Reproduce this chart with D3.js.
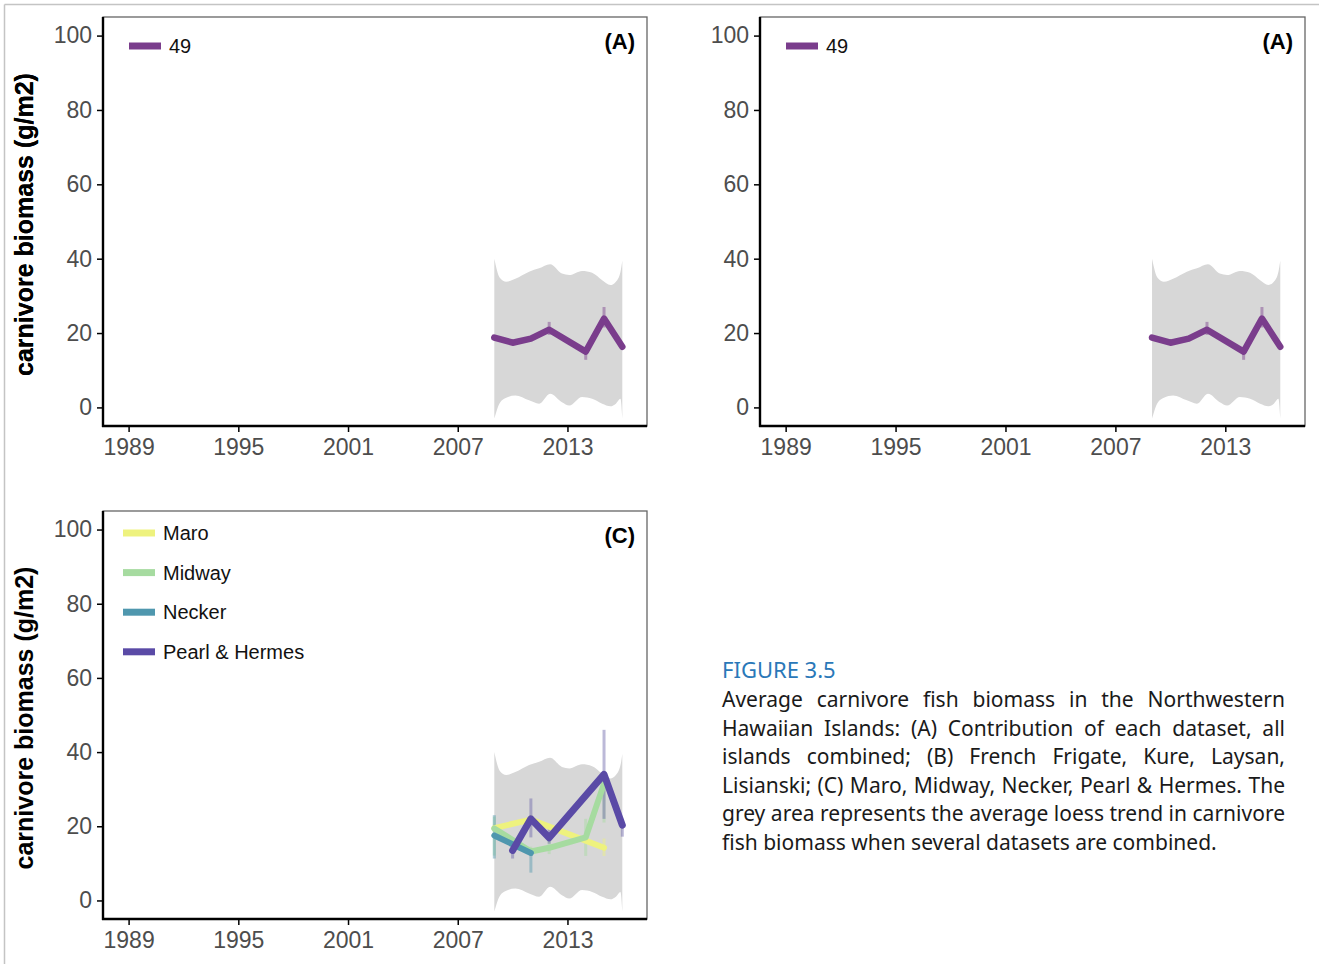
<!DOCTYPE html>
<html>
<head>
<meta charset="utf-8">
<script src="https://cdn.jsdelivr.net/npm/d3@7"></script>
<style>
  body { margin: 0; background: #fff; }
  svg { display: block; }
</style>
</head>
<body>
<svg id="fig" width="1319" height="964"></svg>
<script>
// ---- data ----
var yearTicks = [1989, 1995, 2001, 2007, 2013];
var biomassTicks = [0, 20, 40, 60, 80, 100];

// panels A/B: all datasets combined ("49")
var allYears = [2009, 2010, 2011, 2012, 2014, 2015, 2016];
var allMean  = [18.8, 17.4, 18.5, 20.9, 15.0, 23.9, 16.3];
var allLow   = [18.2, 16.8, 17.9, 19.5, 12.8, 21.5, 15.7];
var allHigh  = [19.4, 18.0, 19.1, 23.0, 15.6, 27.0, 16.9];

// loess band (same in every panel)
var bandYears = [2009.0, 2009.3, 2009.65, 2010.15, 2010.9, 2011.45, 2012.05, 2012.7, 2013.1, 2013.8, 2014.35, 2014.9, 2015.35, 2015.65, 2015.9, 2016.0];
var bandUpper = [40.0, 34.9, 33.8, 34.6, 36.5, 37.4, 38.5, 36.0, 35.6, 36.7, 36.2, 34.2, 32.9, 33.8, 36.5, 39.5];
var bandLower = [-3.0, 1.2, 2.6, 3.2, 1.9, 1.0, 3.7, 1.4, 0.5, 2.8, 2.3, 1.0, 0.3, 1.0, 2.3, -3.0];

// panel C islands
var islandNames = ["Maro", "Midway", "Necker", "Pearl & Hermes"];
var islandColors = ["#eef27e", "#a6dba0", "#4f97ae", "#5a4aa6"];

var maroYears = [2009, 2011, 2015];
var maroMean  = [19.5, 21.8, 14.2];
var maroLow   = [18.5, 20.5, 12.0];
var maroHigh  = [20.5, 23.0, 16.7];

var midwayYears = [2009, 2011, 2012, 2014, 2015];
var midwayMean  = [19.4, 13.2, 14.2, 17.0, 31.5];
var midwayLow   = [12.1, 12.0, 12.5, 12.0, 21.0];
var midwayHigh  = [22.6, 14.5, 16.0, 22.0, 33.0];

var neckerYears = [2009, 2011];
var neckerMean  = [17.5, 12.8];
var neckerLow   = [11.3, 7.5];
var neckerHigh  = [23.0, 14.0];

var pearlYears = [2010, 2011, 2012, 2015, 2016];
var pearlMean  = [13.5, 22.0, 16.9, 34.0, 20.3];
var pearlLow   = [11.3, 17.0, 15.3, 22.0, 17.2];
var pearlHigh  = [14.5, 27.5, 19.4, 46.0, 22.0];

var captionTitle = "FIGURE 3.5";
var captionLines = [
  "Average carnivore fish biomass in the Northwestern",
  "Hawaiian Islands: (A) Contribution of each dataset, all",
  "islands combined; (B) French Frigate, Kure, Laysan,",
  "Lisianski; (C) Maro, Midway, Necker, Pearl & Hermes. The",
  "grey area represents the average loess trend in carnivore",
  "fish biomass when several datasets are combined."
];

// ---- helpers ----
function toPoints(years, mean, low, high) {
  return years.map(function(y, i) { return {year: y, v: mean[i], lo: low[i], hi: high[i]}; });
}

var svg = d3.select("#fig");

// faint outer frame of the page
svg.append("line").attr("x1", 4.5).attr("x2", 1319).attr("y1", 4.5).attr("y2", 4.5)
  .attr("stroke", "#c4c4c4").attr("stroke-width", 1.5);
svg.append("line").attr("x1", 4.5).attr("x2", 4.5).attr("y1", 4.5).attr("y2", 964)
  .attr("stroke", "#c4c4c4").attr("stroke-width", 1.5);

var bandData = bandYears.map(function(y, i) { return {year: y, lo: bandLower[i], hi: bandUpper[i]}; });

function drawPanel(id, left, top, w, h, tag, series, legend) {
  var x = d3.scaleLinear().domain([1987.6, 2017.35]).range([left, left + w]);
  var y = d3.scaleLinear().domain([-5, 105]).range([top + h, top]);
  var g = svg.append("g").attr("class", "panel-" + id);

  g.append("clipPath").attr("id", "clip-" + id)
    .append("rect").attr("x", left).attr("y", top).attr("width", w).attr("height", h);

  var plot = g.append("g").attr("clip-path", "url(#clip-" + id + ")");

  // loess band
  var area = d3.area()
    .x(function(d) { return x(d.year); })
    .y0(function(d) { return y(d.lo); })
    .y1(function(d) { return y(d.hi); })
    .curve(d3.curveMonotoneX);
  plot.append("path").datum(bandData).attr("d", area).attr("fill", "#d7d7d7");

  var line = d3.line()
    .x(function(d) { return x(d.year); })
    .y(function(d) { return y(d.v); });

  series.forEach(function(s) {
    plot.selectAll(null).data(s.points).enter().append("line")
      .attr("x1", function(d) { return x(d.year); })
      .attr("x2", function(d) { return x(d.year); })
      .attr("y1", function(d) { return y(d.lo); })
      .attr("y2", function(d) { return y(d.hi); })
      .attr("stroke", s.errColor || s.color)
      .attr("stroke-opacity", 0.45)
      .attr("stroke-width", 3);
  });
  series.forEach(function(s) {
    plot.append("path").datum(s.points).attr("d", line)
      .attr("fill", "none")
      .attr("stroke", s.color)
      .attr("stroke-width", s.width)
      .attr("stroke-linejoin", "round")
      .attr("stroke-linecap", "round");
  });

  // frame
  g.append("rect").attr("x", left).attr("y", top).attr("width", w).attr("height", h)
    .attr("fill", "none").attr("stroke", "#666").attr("stroke-width", 1.3);

  // axes
  var yAxis = d3.axisLeft(y).tickValues(biomassTicks).tickSize(6).tickPadding(5);
  var xAxis = d3.axisBottom(x).tickValues(yearTicks).tickFormat(d3.format("d")).tickSize(6).tickPadding(7);

  var ya = g.append("g").attr("transform", "translate(" + left + ",0)").call(yAxis);
  var xa = g.append("g").attr("transform", "translate(0," + (top + h) + ")").call(xAxis);
  [ya, xa].forEach(function(a) {
    a.select(".domain").attr("stroke", "#000").attr("stroke-width", 2.4);
    a.selectAll(".tick line").attr("stroke", "#000").attr("stroke-width", 1.5);
    a.selectAll(".tick text").attr("fill", "#4d4d4d")
      .style("font-family", "'Liberation Sans', Arial, sans-serif").style("font-size", "23px");
  });
  ya.select(".domain").attr("d", "M0," + (top + h + 1) + "V" + top);
  xa.select(".domain").attr("d", "M" + (left - 1) + ",0H" + (left + w));

  // y title
  g.append("text")
    .attr("transform", "translate(33," + (top + h / 2 + 3) + ") rotate(-90)")
    .attr("text-anchor", "middle")
    .style("font-family", "'Liberation Sans', Arial, sans-serif")
    .style("font-size", "25px").style("font-weight", "bold")
    .attr("fill", "#000")
    .text("carnivore biomass (g/m2)");

  // panel tag
  g.append("text").attr("x", left + w - 12).attr("y", top + 32)
    .attr("text-anchor", "end")
    .style("font-family", "'Liberation Sans', Arial, sans-serif")
    .style("font-size", "22px").style("font-weight", "bold")
    .text(tag);

  // legend
  var lg = g.selectAll(".legend").data(legend).enter().append("g")
    .attr("transform", function(d, i) { return "translate(0," + (i * legend.step) + ")"; });
  lg.append("line")
    .attr("x1", legend.x).attr("x2", legend.x + 32)
    .attr("y1", legend.y).attr("y2", legend.y)
    .attr("stroke", function(d) { return d.color; }).attr("stroke-width", 7);
  lg.append("text")
    .attr("x", legend.x + 40).attr("y", legend.y + 7)
    .style("font-family", "'Liberation Sans', Arial, sans-serif")
    .style("font-size", "20px").attr("fill", "#111")
    .text(function(d) { return d.name; });
}

var allSeries = [{color: "#7a3d8c", width: 6.5, points: toPoints(allYears, allMean, allLow, allHigh)}];
var legendAll = [{name: "49", color: "#7a3d8c"}];
legendAll.x = 129; legendAll.y = 46; legendAll.step = 0;

drawPanel("a", 103, 17, 544, 409, "(A)", allSeries, legendAll);
drawPanel("b", 760, 17, 545, 409, "(A)", allSeries, Object.assign(legendAll.slice(), {x: 786, y: 46, step: 0}));

var islandSeries = [
  {color: islandColors[0], width: 6, points: toPoints(maroYears, maroMean, maroLow, maroHigh)},
  {color: islandColors[1], width: 6, points: toPoints(midwayYears, midwayMean, midwayLow, midwayHigh)},
  {color: islandColors[2], width: 6, points: toPoints(neckerYears, neckerMean, neckerLow, neckerHigh)},
  {color: islandColors[3], width: 7, errColor: "#6a63a8", points: toPoints(pearlYears, pearlMean, pearlLow, pearlHigh)}
];
var legendC = islandNames.map(function(n, i) { return {name: n, color: islandColors[i]}; });
legendC.x = 123; legendC.y = 533; legendC.step = 39.6;

drawPanel("c", 103, 511, 544, 408, "(C)", islandSeries, legendC);

// ---- caption ----
var cap = svg.append("g").style("font-family", "'Noto Sans', 'Open Sans', sans-serif");
cap.append("text").attr("x", 722).attr("y", 678)
  .attr("fill", "#2a78b8").style("font-size", "22px").text(captionTitle);

var capW = 563;
var probe = cap.append("text").style("font-size", "20px").text(captionLines[4]);
var fs = 20 * capW / probe.node().getComputedTextLength();
fs = Math.max(17, Math.min(22, fs));
probe.remove();

captionLines.forEach(function(line, i) {
  var t = cap.append("text").attr("x", 722).attr("y", 707 + i * 28.6)
    .attr("fill", "#1a1a1a").style("font-size", fs + "px").text(line);
  if (i < captionLines.length - 1) {
    var w = t.node().getComputedTextLength();
    var gaps = line.split(" ").length - 1;
    t.attr("word-spacing", ((capW - w) / gaps) + "px");
  }
});
</script>
</body>
</html>
